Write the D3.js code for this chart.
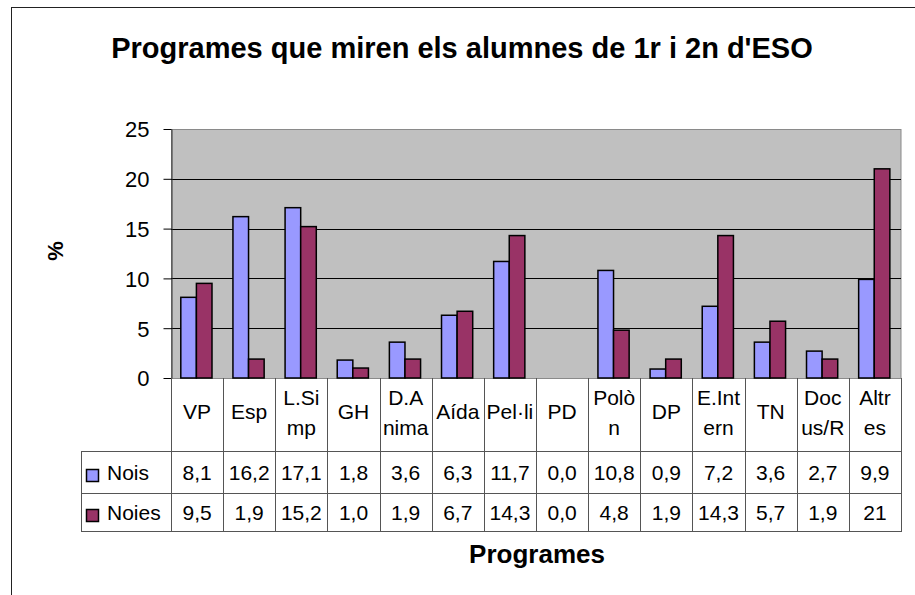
<!DOCTYPE html>
<html lang="ca">
<head>
<meta charset="utf-8">
<script src="https://d3js.org/d3.v7.min.js"></script>
<title>Programes que miren els alumnes de 1r i 2n d'ESO</title>
<style>
  body { margin: 0; background: #fff; }
  svg text { font-family: "Liberation Sans", Arial, sans-serif; fill: #000; }
</style>
</head>
<body>
<div id="chart"></div>
<script>
// categories as they are wrapped in the data table
var catLines = [["VP"], ["Esp"], ["L.Si", "mp"], ["GH"], ["D.A", "nima"], ["Aída"], ["Pel·li"],
                ["PD"], ["Polò", "n"], ["DP"], ["E.Int", "ern"], ["TN"], ["Doc", "us/R"], ["Altr", "es"]];
var series = ["Nois", "Noies"];
var nois  = [8.1, 16.2, 17.1, 1.8, 3.6, 6.3, 11.7, 0.0, 10.8, 0.9, 7.2, 3.6, 2.7, 9.9];
var noies = [9.5, 1.9, 15.2, 1.0, 1.9, 6.7, 14.3, 0.0, 4.8, 1.9, 14.3, 5.7, 1.9, 21];
var noisLabels  = ["8,1", "16,2", "17,1", "1,8", "3,6", "6,3", "11,7", "0,0", "10,8", "0,9", "7,2", "3,6", "2,7", "9,9"];
var noiesLabels = ["9,5", "1,9", "15,2", "1,0", "1,9", "6,7", "14,3", "0,0", "4,8", "1,9", "14,3", "5,7", "1,9", "21"];
var yTicks = [0, 5, 10, 15, 20, 25];
var colors = ["#9999FF", "#993366"];

var W = 915, H = 595;
var plot = {left: 171, right: 901, top: 129, bottom: 378};
var rowCat = 451, rowNois = 493, rowNoies = 531, tableLeft = 81;

var svg = d3.select("#chart").append("svg")
    .attr("width", W)
    .attr("height", H);

// outer chart frame
svg.append("rect")
    .attr("x", 11.5).attr("y", 7.5)
    .attr("width", W).attr("height", H)
    .attr("fill", "#fff")
    .attr("stroke", "#222");

var cats = catLines.map(function(d, i) { return i; });
var x0 = d3.scaleBand().domain(cats).range([plot.left, plot.right]);
var x1 = d3.scaleBand().domain(series).range([9.8, 41]);
var y = d3.scaleLinear().domain([0, 25]).range([plot.bottom, plot.top]);

// plot area
svg.append("rect")
    .attr("x", plot.left + 0.5).attr("y", plot.top + 0.5)
    .attr("width", plot.right - plot.left - 0.5)
    .attr("height", plot.bottom - plot.top)
    .attr("fill", "#C0C0C0")
    .attr("stroke", "#8a8a8a");

// gridlines
svg.append("g").selectAll("line")
    .data(yTicks.filter(function(t) { return t > 0 && t < 25; }))
    .enter().append("line")
        .attr("x1", plot.left).attr("x2", plot.right)
        .attr("y1", function(d) { return Math.round(y(d)) + 0.5; })
        .attr("y2", function(d) { return Math.round(y(d)) + 0.5; })
        .attr("stroke", "#000");

// bars
var data = [];
cats.forEach(function(i) {
    data.push({cat: i, s: "Nois", v: nois[i], c: colors[0]});
    data.push({cat: i, s: "Noies", v: noies[i], c: colors[1]});
});
svg.append("g").selectAll("rect")
    .data(data.filter(function(d) { return d.v > 0; }))
    .enter().append("rect")
        .attr("x", function(d) { return x0(d.cat) + x1(d.s); })
        .attr("y", function(d) { return y(d.v); })
        .attr("width", x1.bandwidth())
        .attr("height", function(d) { return y(0) - y(d.v); })
        .attr("fill", function(d) { return d.c; })
        .attr("stroke", "#000")
        .attr("stroke-width", 1.5);

// y axis
var yAxis = svg.append("g")
    .attr("transform", "translate(" + (plot.left + 0.5) + ",0)")
    .call(d3.axisLeft(y).tickValues(yTicks).tickSize(8).tickSizeOuter(0).tickPadding(14));
yAxis.select(".domain").attr("stroke", "#333");
yAxis.selectAll(".tick line").attr("stroke", "#000");
yAxis.selectAll(".tick text")
    .style("font-family", "'Liberation Sans', Arial, sans-serif")
    .style("font-size", "22px")
    .attr("dy", "0.36em");

// % label
svg.append("text")
    .attr("transform", "translate(55,251) rotate(-90)")
    .attr("text-anchor", "middle")
    .attr("dominant-baseline", "central")
    .style("font-size", "22px")
    .style("font-weight", "bold")
    .text("%");

// data table grid
var grid = svg.append("g").attr("stroke", "#555").attr("stroke-width", 1);
[rowCat, rowNois, rowNoies].forEach(function(yy) {
    grid.append("line")
        .attr("x1", tableLeft).attr("x2", plot.right + 0.5)
        .attr("y1", yy + 0.5).attr("y2", yy + 0.5);
});
grid.append("line")
    .attr("x1", tableLeft + 0.5).attr("x2", tableLeft + 0.5)
    .attr("y1", rowCat).attr("y2", rowNoies + 1);
cats.concat([cats.length]).forEach(function(i) {
    var xx = i < cats.length ? x0(i) : plot.right;
    grid.append("line")
        .attr("x1", Math.round(xx) + 0.5).attr("x2", Math.round(xx) + 0.5)
        .attr("y1", plot.bottom).attr("y2", rowNoies + 1);
});

// category labels
var catG = svg.append("g").selectAll("text")
    .data(catLines)
    .enter().append("text")
        .attr("text-anchor", "middle")
        .style("font-size", "21px")
        .attr("x", function(d, i) { return x0(i) + x0.bandwidth() / 2; })
        .attr("y", function(d) { return d.length > 1 ? 405 : 419; });
catG.selectAll("tspan")
    .data(function(d) { return d; })
    .enter().append("tspan")
        .attr("x", function() { return d3.select(this.parentNode).attr("x"); })
        .attr("dy", function(d, j) { return j === 0 ? 0 : 30; })
        .text(function(d) { return d; });

// values rows
[[noisLabels, 479.5], [noiesLabels, 519.5]].forEach(function(row) {
    svg.append("g").selectAll("text")
        .data(row[0])
        .enter().append("text")
            .attr("text-anchor", "middle")
            .style("font-size", "21px")
            .attr("x", function(d, i) { return x0(i) + x0.bandwidth() / 2; })
            .attr("y", row[1])
            .text(function(d) { return d; });
});

// legend keys inside the table
series.forEach(function(s, i) {
    var cy = i === 0 ? 476 : 516;
    svg.append("rect")
        .attr("x", 86.5).attr("y", cy - 6.5)
        .attr("width", 12).attr("height", 12)
        .attr("fill", colors[i])
        .attr("stroke", "#000")
        .attr("stroke-width", 1.5);
    svg.append("text")
        .attr("x", 107)
        .attr("y", i === 0 ? 479.5 : 519.5)
        .style("font-size", "21px")
        .text(s);
});

// titles
svg.append("text")
    .attr("x", 462).attr("y", 58)
    .attr("text-anchor", "middle")
    .style("font-size", "29px")
    .style("font-weight", "bold")
    .text("Programes que miren els alumnes de 1r i 2n d'ESO");

svg.append("text")
    .attr("x", 537).attr("y", 563)
    .attr("text-anchor", "middle")
    .style("font-size", "26px")
    .style("font-weight", "bold")
    .text("Programes");
</script>
</body>
</html>
